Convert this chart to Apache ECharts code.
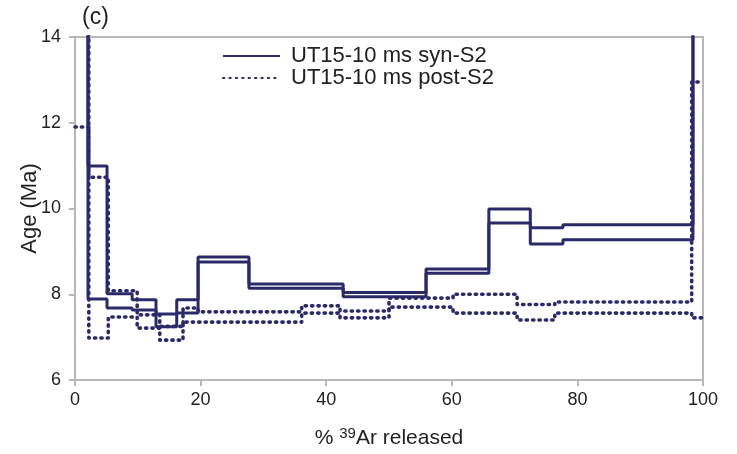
<!DOCTYPE html>
<html>
<head>
<meta charset="utf-8">
<script src="https://cdn.jsdelivr.net/npm/echarts@6/dist/echarts.min.js"></script>
<style>html,body{margin:0;padding:0;background:#fff}#c{width:737px;height:454px}</style>
</head>
<body>
<div id="c"></div>
<script>
// Step boundaries (% 39Ar released) and age bounds (Ma) for each heating step
var synBounds  = [0, 2.07, 5.1, 9.1, 12.9, 16.2, 19.6, 27.7, 42.7, 55.9, 65.9, 72.5, 77.7, 98.4, 100];
var synUpper   = [18, 10.99, 8.01, 7.87, 7.54, 7.87, 8.87, 8.24, 8.04, 8.59, 9.99, 9.55, 9.62, 18];
var synLower   = [16, 7.89, 7.68, 7.63, 7.24, 7.56, 8.75, 8.14, 7.94, 8.49, 9.66, 9.17, 9.27, 16];

var postBounds = [0, 2.2, 5.3, 9.9, 13.5, 17.2, 19.6, 36.1, 42.2, 50.0, 60.2, 70.4, 76.4, 98.2, 100];
var postUpper  = [16, 10.73, 8.08, 7.52, 7.25, 7.68, 7.59, 7.73, 7.61, 7.91, 8.0, 7.76, 7.82, 12.95];
var postLower  = [11.9, 6.98, 7.47, 7.21, 6.93, 7.35, 7.35, 7.56, 7.45, 7.70, 7.56, 7.40, 7.56, 7.45];

var xTicks = [0, 20, 40, 60, 80, 100];
var yTicks = [6, 8, 10, 12, 14];

var synName = 'UT15-10 ms syn-S2';
var postName = 'UT15-10 ms post-S2';
var navy = '#2b2a68';
var gray = '#b8b8b8';
var font = '"Liberation Sans", Arial, sans-serif';

function steps(bounds, vals) {
  var pts = [];
  for (var i = 0; i < vals.length; i++) {
    pts.push([bounds[i], vals[i]]);
    pts.push([bounds[i + 1], vals[i]]);
  }
  return pts;
}

var solidStyle = {color: navy, width: 3, type: 'solid'};
var dotStyle = {color: navy, width: 3.6, type: [1.3, 5.1], cap: 'round', join: 'round'};

function mk(name, data, ls, z) {
  return {
    name: name, type: 'line', data: data, symbol: 'none', showSymbol: false,
    lineStyle: ls, itemStyle: {color: navy}, clip: true, z: z, animation: false
  };
}

var chart = echarts.init(document.getElementById('c'));
chart.setOption({
  animation: false,
  backgroundColor: '#fff',
  title: {text: '(c)', left: 77, top: 1, textStyle: {fontFamily: font, fontSize: 23, fontWeight: 'normal', color: '#222'}},
  grid: {left: 75, right: 34, top: 37, bottom: 74, show: true, borderColor: gray, borderWidth: 2, backgroundColor: 'transparent'},
  legend: {
    data: [synName, postName], orient: 'vertical', left: 217, top: 45,
    itemWidth: 57, itemHeight: 12, itemGap: 0, backgroundColor: '#fff', padding: [0, 5, 0, 5],
    itemStyle: {opacity: 0},
    textStyle: {fontFamily: font, fontSize: 22, lineHeight: 22, color: '#222', padding: [0, 0, 0, 6]}
  },
  xAxis: {
    type: 'value', min: 0, max: 100, interval: 20,
    axisLine: {show: true, lineStyle: {color: gray, width: 2}},
    axisTick: {show: true, length: 6, lineStyle: {color: gray, width: 2}},
    splitLine: {show: false},
    axisLabel: {fontFamily: font, fontSize: 18, color: '#222', margin: 11,
      formatter: function (v) { return xTicks.indexOf(v) >= 0 ? String(v) : ''; }},
    name: '% {sup|39}Ar released', nameLocation: 'middle', nameGap: 46,
    nameTextStyle: {fontFamily: font, fontSize: 21, color: '#222',
      rich: {sup: {fontFamily: font, fontSize: 15, color: '#222', verticalAlign: 'bottom', padding: [0, 0, 9, 0]}}}
  },
  yAxis: {
    type: 'value', min: 6, max: 14, interval: 2,
    axisLine: {show: true, lineStyle: {color: gray, width: 2}},
    axisTick: {show: true, length: 6, lineStyle: {color: gray, width: 2}},
    splitLine: {show: false},
    axisLabel: {fontFamily: font, fontSize: 18, color: '#222', margin: 14,
      formatter: function (v) { return yTicks.indexOf(v) >= 0 ? String(v) : ''; }},
    name: 'Age (Ma)', nameLocation: 'middle', nameGap: 34, nameMoveOverlap: false,
    nameTextStyle: {fontFamily: font, fontSize: 22, color: '#222'}
  },
  series: [
    mk(synName, steps(synBounds, synUpper), solidStyle, 3),
    mk(synName, steps(synBounds, synLower), solidStyle, 3),
    mk(postName, steps(postBounds, postUpper), dotStyle, 2),
    mk(postName, steps(postBounds, postLower), dotStyle, 2)
  ]
});
</script>
</body>
</html>
